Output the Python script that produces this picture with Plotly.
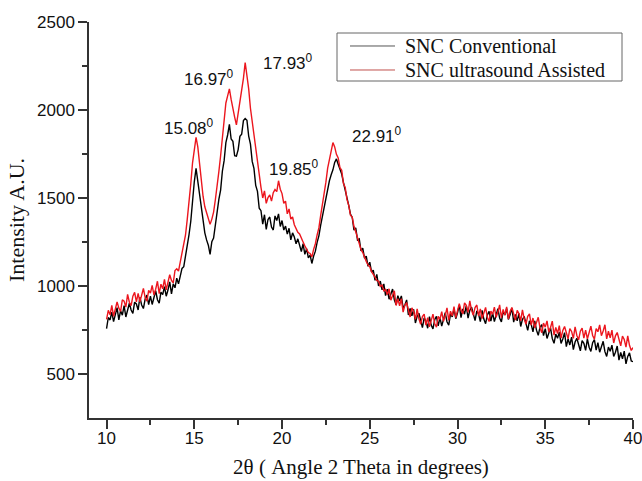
import plotly.graph_objects as go

# Scan grid (2-theta, degrees), step 0.1 from 10.0 to 40.0
two_theta = [round(10 + i * 0.1, 1) for i in range(301)]

snc_conventional = [
    758, 821, 807, 852, 798, 832, 877, 807, 860, 834,
    888, 824, 874, 902, 864, 844, 908, 898, 864, 936,
    892, 872, 926, 948, 894, 942, 895, 938, 973, 922,
    903, 965, 951, 996, 942, 977, 1023, 955, 1012, 990,
    1045, 1012, 1056, 1100, 1110, 1170, 1212, 1292, 1368, 1488,
    1592, 1668, 1598, 1522, 1432, 1362, 1302, 1262, 1232, 1180,
    1252, 1272, 1352, 1398, 1492, 1545, 1652, 1712, 1815, 1858,
    1918, 1835, 1822, 1740, 1738, 1775, 1850, 1862, 1940, 1952,
    1942, 1852, 1806, 1708, 1668, 1572, 1538, 1442, 1428, 1352,
    1405, 1322, 1378, 1392, 1335, 1318, 1398, 1372, 1410, 1338,
    1372, 1318, 1340, 1295, 1328, 1262, 1302, 1278, 1240, 1268,
    1232, 1196, 1240, 1180, 1212, 1160, 1176, 1128, 1170, 1198,
    1248, 1285, 1345, 1395, 1455, 1498, 1552, 1598, 1632, 1660,
    1702, 1722, 1692, 1660, 1636, 1588, 1548, 1498, 1458, 1408,
    1390, 1318, 1330, 1262, 1268, 1200, 1215, 1158, 1170, 1112,
    1135, 1080, 1090, 1032, 1066, 1000, 1028, 978, 1012, 945,
    982, 925, 958, 983, 922, 893, 945, 915, 944, 874,
    892, 921, 835, 872, 830, 868, 790, 828, 845, 796,
    764, 819, 800, 760, 826, 778, 756, 808, 828, 773,
    820, 772, 814, 848, 797, 778, 840, 825, 869, 814,
    847, 891, 820, 870, 840, 888, 818, 861, 880, 833,
    804, 859, 840, 798, 862, 812, 786, 836, 856, 800,
    847, 798, 838, 871, 818, 796, 855, 835, 872, 810,
    838, 875, 795, 838, 802, 844, 770, 810, 827, 778,
    748, 802, 782, 739, 802, 749, 720, 766, 780, 718,
    758, 702, 736, 762, 702, 674, 727, 703, 738, 674,
    699, 735, 656, 700, 665, 710, 639, 682, 703, 658,
    632, 690, 674, 634, 700, 652, 628, 678, 695, 636,
    678, 624, 659, 686, 627, 600, 653, 629, 664, 600,
    624, 659, 579, 622, 586, 630, 558, 600, 620, 574,
    570,
]

snc_ultrasound = [
    810, 862, 836, 890, 828, 880, 910, 874, 856, 922,
    914, 880, 952, 908, 888, 942, 964, 910, 958, 910,
    952, 986, 934, 914, 975, 960, 1004, 949, 982, 1027,
    957, 1010, 984, 1038, 978, 1032, 1064, 1032, 1018, 1088,
    1098, 1085, 1140, 1190, 1232, 1290, 1380, 1470, 1580, 1700,
    1790, 1845, 1790, 1700, 1590, 1510, 1450, 1415, 1370, 1350,
    1380, 1420, 1490, 1560, 1650, 1740, 1850, 1950, 2040, 2080,
    2120, 2060, 2000, 1960, 1915, 1980, 2060, 2100, 2180, 2270,
    2200, 2120, 2010, 1930, 1850, 1790, 1710, 1620, 1560, 1500,
    1540, 1470, 1502, 1518, 1482, 1530, 1548, 1536, 1598, 1550,
    1525, 1470, 1482, 1410, 1438, 1380, 1392, 1348, 1328, 1305,
    1296, 1268, 1250, 1228, 1210, 1190, 1185, 1165, 1208, 1240,
    1290, 1330, 1400, 1460, 1530, 1590, 1670, 1720, 1780, 1815,
    1790, 1748, 1728, 1672, 1658, 1582, 1560, 1492, 1458, 1402,
    1392, 1338, 1308, 1270, 1248, 1208, 1190, 1162, 1140, 1120,
    1110, 1082, 1068, 1050, 1030, 1028, 998, 1005, 972, 980,
    950, 984, 919, 942, 973, 889, 928, 888, 928, 852,
    890, 906, 856, 824, 876, 855, 810, 870, 814, 783,
    826, 840, 778, 820, 768, 808, 840, 787, 766, 827,
    811, 854, 799, 832, 876, 805, 857, 830, 883, 820,
    871, 900, 863, 842, 904, 890, 850, 915, 862, 833,
    878, 892, 830, 870, 815, 850, 878, 822, 798, 857,
    839, 880, 822, 852, 893, 819, 867, 835, 882, 812,
    856, 878, 833, 806, 862, 844, 802, 865, 812, 783,
    828, 841, 778, 818, 762, 796, 822, 762, 735, 789,
    766, 802, 739, 764, 800, 721, 765, 730, 775, 704,
    748, 770, 726, 700, 758, 742, 702, 768, 719, 694,
    743, 761, 704, 749, 699, 739, 772, 719, 698, 758,
    740, 779, 718, 744, 780, 700, 743, 706, 749, 676,
    717, 736, 689, 660, 715, 696, 653, 716, 663, 634,
    650,
]

series_names = ["SNC Conventional", "SNC ultrasound Assisted"]
series_colors = ["#000000", "rgb(236,22,30)"]
legend_sample_colors = ["#555555", "#c0504d"]

peak_labels = ["15.08", "16.97", "17.93", "19.85", "22.91"]
peak_label_x = [14.72, 15.85, 20.34, 20.68, 25.4]
peak_label_y = [1903, 2182, 2273, 1670, 1858]

x_ticks = [10, 15, 20, 25, 30, 35, 40]
y_ticks = [500, 1000, 1500, 2000, 2500]

fig = go.Figure()
for yv, nm, col in zip([snc_conventional, snc_ultrasound], series_names, series_colors):
    fig.add_trace(go.Scatter(x=two_theta, y=yv, mode="lines", name=nm,
                             showlegend=False,
                             line=dict(color=col, width=1.4)))

for lab, lx, ly in zip(peak_labels, peak_label_x, peak_label_y):
    fig.add_annotation(x=lx, y=ly, xref="x", yref="y",
                       text=lab + "<sup>0</sup>", showarrow=False,
                       font=dict(family="Liberation Sans, Arial", size=17, color="#111"))

# Legend box drawn in paper coordinates
fig.add_shape(type="rect", xref="paper", yref="paper",
              x0=0.4559, x1=0.9798, y0=0.8510, y1=0.9722,
              line=dict(color="#666", width=1), fillcolor="white", layer="above")
legend_rows_y = [0.9394, 0.8788]
for nm, col, ry in zip(series_names, legend_sample_colors, legend_rows_y):
    fig.add_shape(type="line", xref="paper", yref="paper",
                  x0=0.4798, x1=0.5625, y0=ry, y1=ry,
                  line=dict(color=col, width=1), layer="above")
    fig.add_annotation(x=0.5772, y=ry, xref="paper", yref="paper",
                       xanchor="left", yanchor="middle", text=nm, showarrow=False,
                       font=dict(family="Liberation Serif, Times New Roman", size=20, color="#111"))

axis_common = dict(showgrid=False, zeroline=False, showline=True,
                   linecolor="#333", linewidth=1.5, ticks="outside",
                   ticklen=9, tickwidth=1.5, tickcolor="#333",
                   ticklabeloverflow="allow", automargin=False,
                   tickfont=dict(family="Liberation Sans, Arial", size=17, color="#111"))

fig.update_layout(
    width=642, height=481,
    margin=dict(l=89, r=9, t=22, b=63, autoexpand=False),
    plot_bgcolor="white", paper_bgcolor="white",
    xaxis=dict(range=[9, 40], tickvals=x_ticks, ticklabelstandoff=-5,
               minor=dict(ticks="outside", ticklen=5, tickwidth=1.5,
                          tickcolor="#333", tickvals=[12.5, 17.5, 22.5, 27.5, 32.5, 37.5]),
               title=dict(text="2θ ( Angle 2 Theta in degrees)",
                          font=dict(family="Liberation Serif, Times New Roman", size=21, color="#111"),
                          standoff=12),
               **axis_common),
    yaxis=dict(range=[250, 2500], tickvals=y_ticks,
               minor=dict(ticks="outside", ticklen=5, tickwidth=1.5,
                          tickcolor="#333", tickvals=[750, 1250, 1750, 2250]),
               title=dict(text="Intensity A.U.",
                          font=dict(family="Liberation Serif, Times New Roman", size=22, color="#111"),
                          standoff=6),
               **axis_common),
    showlegend=False,
)

fig.write_html("out.html")
